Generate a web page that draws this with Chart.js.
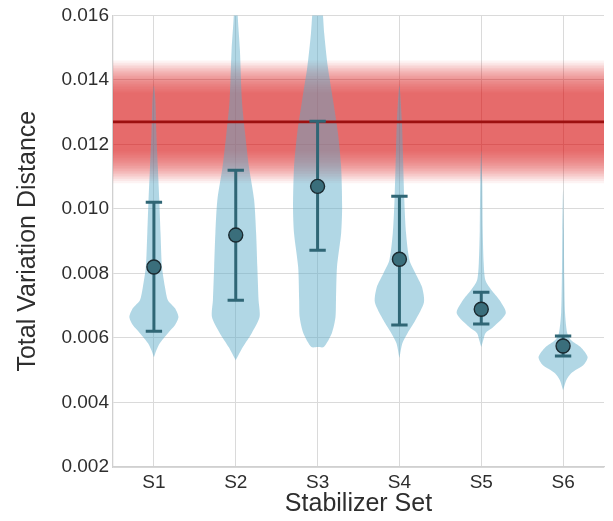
<!DOCTYPE html>
<html>
<head>
<meta charset="utf-8">
<script src="https://cdn.jsdelivr.net/npm/chart.js@4"></script>
<style>
  body { margin: 0; background: #fff; }
  #wrap { width: 613px; height: 521px; }
</style>
</head>
<body>
<div id="wrap"><canvas id="violinChart"></canvas></div>
<script>
// Stabilizer sets on the x axis
const categories = ['S1', 'S2', 'S3', 'S4', 'S5', 'S6'];

// mean and error bar ends per set
const means = [0.0082, 0.00919, 0.0107, 0.00844, 0.00689, 0.00575];
const lowerErr = [0.00621, 0.00717, 0.00872, 0.0064, 0.00643, 0.00544];
const upperErr = [0.01021, 0.0112, 0.01272, 0.01039, 0.00742, 0.00606];

// violin outlines: y values (bottom -> top) and relative density at each
const s1Vals = [0.0054, 0.00562, 0.00584, 0.00615, 0.0064, 0.00665, 0.00692, 0.00717, 0.00758, 0.00819, 0.00925, 0.01027, 0.01129, 0.01235, 0.01337, 0.01383];
const s1Dens = [0, 0.1, 0.24, 0.57, 0.86, 1, 0.86, 0.57, 0.45, 0.33, 0.27, 0.22, 0.16, 0.1, 0.06, 0];
const s2Vals = [0.00531, 0.00572, 0.00615, 0.00665, 0.00717, 0.00819, 0.00925, 0.01027, 0.01129, 0.01235, 0.01337, 0.01492, 0.016, 0.0171, 0.0177];
const s2Dens = [0, 0.29, 0.65, 0.97, 0.93, 0.88, 0.83, 0.75, 0.54, 0.38, 0.25, 0.17, 0.08, 0.04, 0];
const s3Vals = [0.00572, 0.00572, 0.00615, 0.00665, 0.00717, 0.00819, 0.00925, 0.01005, 0.01129, 0.01235, 0.01337, 0.01439, 0.01544, 0.016, 0.01677, 0.0177];
const s3Dens = [0, 0.25, 0.58, 0.73, 0.75, 0.79, 0.96, 1, 0.96, 0.83, 0.63, 0.42, 0.27, 0.22, 0.14, 0];
const s4Vals = [0.00538, 0.00584, 0.00615, 0.00655, 0.00711, 0.00758, 0.00801, 0.00841, 0.00925, 0.01027, 0.01182, 0.01275, 0.01383];
const s4Dens = [0, 0.12, 0.33, 0.65, 1, 0.92, 0.65, 0.41, 0.27, 0.2, 0.14, 0.1, 0];
const s5Vals = [0.00572, 0.00593, 0.00615, 0.00634, 0.00677, 0.00717, 0.00748, 0.00779, 0.00832, 0.00934, 0.01089, 0.01182];
const s5Dens = [0, 0.08, 0.17, 0.49, 1, 0.75, 0.42, 0.17, 0.1, 0.06, 0.04, 0];
const s6Vals = [0.00438, 0.00469, 0.00491, 0.00516, 0.00541, 0.00572, 0.00593, 0.00615, 0.00677, 0.00779, 0.00934, 0.01058];
const s6Dens = [0, 0.13, 0.33, 0.83, 1, 0.71, 0.33, 0.17, 0.08, 0.05, 0.03, 0];

// reference line and its shaded band (half widths, inner -> outer)
const refValue = 0.0127;
const bandHalfWidths = [0.00092, 0.00097, 0.00102, 0.00107, 0.00112, 0.00117, 0.00122, 0.00127, 0.00132, 0.00137,
                        0.00142, 0.00147, 0.00152, 0.00157, 0.00162, 0.00167, 0.00172, 0.00177, 0.00183, 0.0019];

// y axis ticks
const yTicks = [0.002, 0.004, 0.006, 0.008, 0.010, 0.012, 0.014, 0.016];

const violinVals = [s1Vals, s2Vals, s3Vals, s4Vals, s5Vals, s6Vals];
const violinDens = [s1Dens, s2Dens, s3Dens, s4Dens, s5Dens, s6Dens];
const maxHalf = 0.3;
const capHalf = 0.1;
const xMin = 0.5, xMax = categories.length + 0.5;

function violinOutline(pos, vals, dens) {
    const right = vals.map((v, k) => ({x: pos + dens[k] * maxHalf, y: v}));
    const left = vals.map((v, k) => ({x: pos - dens[k] * maxHalf, y: v})).reverse().slice(1);
    return right.concat(left);
}

const datasets = [];

// band, drawn first
bandHalfWidths.forEach(h => {
    datasets.push({
        data: [{x: xMin, y: refValue + h}, {x: xMax, y: refValue + h}],
        fill: {value: refValue - h},
        backgroundColor: 'rgba(214,40,40,0.053)',
        borderColor: 'rgba(0,0,0,0)',
        borderWidth: 0,
        pointRadius: 0,
        order: 5
    });
});

// violins
categories.forEach((c, i) => {
    datasets.push({
        data: violinOutline(i + 1, violinVals[i], violinDens[i]),
        fill: 'shape',
        backgroundColor: 'rgba(92,172,200,0.48)',
        borderColor: 'rgba(0,0,0,0)',
        borderWidth: 0,
        pointRadius: 0,
        tension: 0.25,
        order: 4
    });
});

// reference line
datasets.push({
    data: [{x: xMin, y: refValue}, {x: xMax, y: refValue}],
    borderColor: '#9c1010',
    borderWidth: 2.6,
    pointRadius: 0,
    fill: false,
    order: 3
});

// error bars
const errData = [];
categories.forEach((c, i) => {
    const p = i + 1;
    errData.push({x: p - capHalf, y: upperErr[i]}, {x: p + capHalf, y: upperErr[i]}, {x: p, y: null});
    errData.push({x: p, y: upperErr[i]}, {x: p, y: lowerErr[i]}, {x: p, y: null});
    errData.push({x: p - capHalf, y: lowerErr[i]}, {x: p + capHalf, y: lowerErr[i]}, {x: p, y: null});
});
datasets.push({
    data: errData,
    borderColor: '#2f6675',
    borderWidth: 3,
    borderCapStyle: 'butt',
    pointRadius: 0,
    spanGaps: false,
    fill: false,
    order: 2
});

// means
datasets.push({
    data: means.map((m, i) => ({x: i + 1, y: m})),
    showLine: false,
    pointRadius: 7,
    pointBackgroundColor: '#3a6e7b',
    pointBorderColor: '#1b2a30',
    pointBorderWidth: 1.4,
    fill: false,
    order: 1
});

const fontFamily = "'Liberation Sans', Arial, sans-serif";

new Chart(document.getElementById('violinChart'), {
    type: 'line',
    data: {datasets: datasets},
    options: {
        responsive: true,
        maintainAspectRatio: false,
        animation: false,
        events: [],
        layout: {padding: {top: 15, right: 9, left: 0, bottom: 0}},
        plugins: {
            legend: {display: false},
            tooltip: {enabled: false}
        },
        scales: {
            x: {
                type: 'linear',
                min: xMin,
                max: xMax,
                afterBuildTicks: s => { s.ticks = categories.map((c, i) => ({value: i + 1})); },
                afterFit: s => { s.height = 54; },
                ticks: {
                    callback: (v) => categories[v - 1],
                    color: '#2e2e2e',
                    padding: 4,
                    font: {family: fontFamily, size: 19}
                },
                grid: {color: '#dadada', lineWidth: 1, drawTicks: false},
                border: {color: '#d0d0d0', width: 1.3},
                title: {
                    display: true,
                    text: 'Stabilizer Set',
                    color: '#2e2e2e',
                    font: {family: fontFamily, size: 25},
                    padding: {top: 0, bottom: 2}
                }
            },
            y: {
                min: 0.002,
                max: 0.016,
                afterBuildTicks: s => { s.ticks = yTicks.map(v => ({value: v})); },
                afterFit: s => { s.width = 113; },
                ticks: {
                    callback: v => v.toFixed(3),
                    color: '#2e2e2e',
                    padding: 4,
                    font: {family: fontFamily, size: 19}
                },
                grid: {color: '#dadada', lineWidth: 1, drawTicks: false},
                border: {color: '#d0d0d0', width: 1.3},
                title: {
                    display: true,
                    text: 'Total Variation Distance',
                    color: '#2e2e2e',
                    font: {family: fontFamily, size: 25},
                    padding: {top: 13, bottom: 0}
                }
            }
        }
    }
});
</script>
</body>
</html>
